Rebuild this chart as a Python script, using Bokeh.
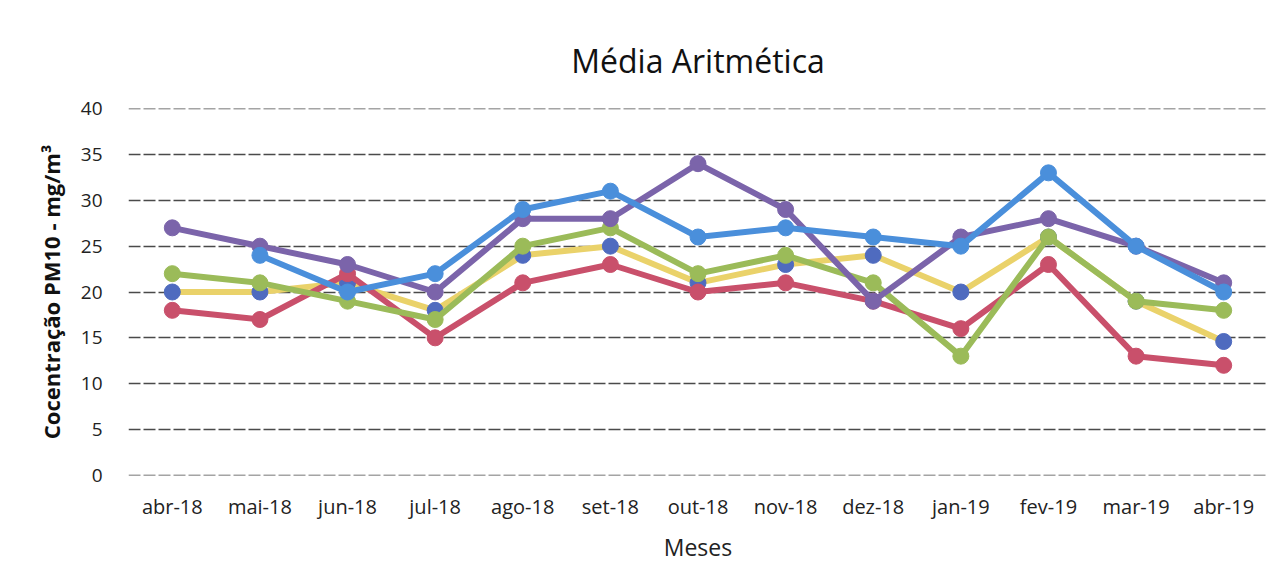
from bokeh.plotting import figure
from bokeh.models import Range1d, FactorRange, FixedTicker
from bokeh.embed import file_html
from bokeh.resources import INLINE

nan = float("nan")

months = ["abr-18", "mai-18", "jun-18", "jul-18", "ago-18", "set-18", "out-18",
          "nov-18", "dez-18", "jan-19", "fev-19", "mar-19", "abr-19"]

serie_roxa = [27, 25, 23, 20, 28, 28, 34, 29, 19, 26, 28, 25, 21]
serie_azul = [nan, 24, 20, 22, 29, 31, 26, 27, 26, 25, 33, 25, 20]
serie_verde = [22, 21, 19, 17, 25, 27, 22, 24, 21, 13, 26, 19, 18]
serie_vermelha = [18, 17, 22, 15, 21, 23, 20, 21, 19, 16, 23, 13, 12]
serie_amarela = [20, 20, 21, 18, 24, 25, 21, 23, 24, 20, 26, 19, 14.6]

y_ticks = [0, 5, 10, 15, 20, 25, 30, 35, 40]

FONT = "Open Sans"

p = figure(width=1279, height=578, x_range=FactorRange(*months), y_range=Range1d(-0.02, 40.02),
           output_backend="svg", toolbar_location=None,
           min_border_left=128, min_border_right=12, min_border_top=108, min_border_bottom=103)

p.title.text = "Média Aritmética"
p.title.align = "center"
p.title.text_font = FONT
p.title.text_font_size = "32px"
p.title.text_font_style = "normal"
p.title.text_color = "#111111"
p.title.standoff = 54

p.outline_line_color = None
p.xgrid.grid_line_color = None
p.ygrid.grid_line_color = "#2a2a2a"
p.ygrid.grid_line_width = 1.3
p.ygrid.grid_line_dash = "12 3"
p.ygrid.grid_line_alpha = 0.85

p.yaxis.ticker = FixedTicker(ticks=y_ticks)
p.yaxis.axis_line_color = None
p.yaxis.major_tick_line_color = None
p.yaxis.minor_tick_line_color = None
p.yaxis.major_label_text_font = FONT
p.yaxis.major_label_text_font_size = "19px"
p.yaxis.major_label_text_color = "#222222"
p.yaxis.major_label_standoff = 20
p.yaxis.axis_label = "Cocentração PM10 - mg/m³"
p.yaxis.axis_label_text_font = FONT
p.yaxis.axis_label_text_font_size = "22px"
p.yaxis.axis_label_text_font_style = "bold"
p.yaxis.axis_label_text_color = "#111111"
p.yaxis.axis_label_standoff = 12

p.xaxis.axis_line_color = None
p.xaxis.major_tick_line_color = None
p.xaxis.major_label_text_font = FONT
p.xaxis.major_label_text_font_size = "20px"
p.xaxis.major_label_text_color = "#222222"
p.xaxis.major_label_standoff = 11
p.xaxis.axis_label = "Meses"
p.xaxis.axis_label_text_font = FONT
p.xaxis.axis_label_text_font_size = "23px"
p.xaxis.axis_label_text_font_style = "normal"
p.xaxis.axis_label_text_color = "#222222"
p.xaxis.axis_label_standoff = 8

series = [
    (serie_amarela, "#EAD26A", "#4F6BBF"),
    (serie_vermelha, "#C9506B", "#C9506B"),
    (serie_verde, "#9BBB59", "#9BBB59"),
    (serie_roxa, "#7B64AA", "#7B64AA"),
    (serie_azul, "#4A8FDB", "#4A8FDB"),
]

for vals, lc, mc in series:
    p.line(months, vals, line_color=lc, line_width=6)
    p.scatter(months, vals, size=16, fill_color=mc, line_color=mc, marker="circle")

open("out.html", "w").write(file_html(p, INLINE))
